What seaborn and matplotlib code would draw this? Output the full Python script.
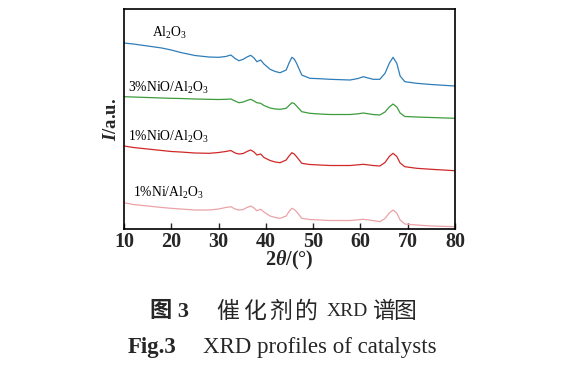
import numpy as np
import pandas as pd
import matplotlib
matplotlib.use("Agg")
import matplotlib.pyplot as plt
import seaborn as sns

# 2theta positions (deg)
two_theta = [10, 12, 15, 18, 20, 22, 25, 28, 30, 31.5, 32.6, 33.5, 34.3, 35.2, 36,
             36.8, 37.5, 38.1, 38.9, 39.6, 40.9, 42, 43, 44.3, 44.9, 45.5, 46, 46.5,
             47.6, 49.3, 51.4, 53.6, 57.8, 59.5, 60.6, 62.7, 64.1, 65.2, 66.1, 66.9,
             67.7, 68.4, 69.4, 71.9, 75, 80]

# stacked intensities (a.u., offsets included)
al2o3 = [186, 185, 183, 181, 179, 176.5, 173.5, 172, 171.7, 172.5, 174, 170.5, 168.3,
         169.7, 172, 173.7, 171, 167.3, 169, 165, 159.7, 157.5, 156.3, 159, 166, 171.7,
         170, 165.7, 154, 150.7, 150.3, 149.7, 149, 150.5, 152.3, 149.7, 149.7, 155.7,
         165.7, 171.7, 165.7, 153, 147.3, 145.7, 144.5, 143]
nio3 = [132.3, 132, 131.5, 131, 130.7, 130.5, 130, 129.7, 129.5, 129.7, 130, 128, 126.3,
        127, 128.5, 129.7, 128, 126.3, 125.7, 123.5, 121, 120, 119.7, 120.7, 123.5, 126.3,
        125.5, 123, 117.3, 115.7, 115, 114.5, 114.5, 115.2, 116, 114.5, 114, 117, 122, 125,
        122, 116, 112.5, 112, 111.5, 110.7]
nio1 = [83, 81.5, 80, 78.5, 77.5, 77, 76, 75.7, 76.5, 77.5, 78.5, 76, 75, 75.5, 77.5, 79,
        77, 74, 75, 71.5, 68.5, 67, 66.3, 69, 73, 76.3, 75, 72.3, 65.7, 64.5, 64, 63.5,
        63.5, 64.2, 64.7, 63.5, 63, 66.5, 72.5, 75.7, 72.5, 66, 62.3, 60.7, 59.7, 58.3]
ni1 = [26.3, 24.5, 23, 21.5, 20.7, 20, 19, 19, 20, 21.5, 22.3, 20, 19, 19.5, 21.5, 23, 21,
       18.3, 19.7, 17, 13, 11.5, 10.7, 13, 17.5, 20.7, 19.5, 17.3, 10.7, 9.5, 9, 8.5, 8.5,
       9.2, 9.7, 8.5, 7.3, 10.5, 16, 19, 16, 9, 5, 4, 3, 2.3]

labels = [r"Al$_2$O$_3$", r"3%NiO/Al$_2$O$_3$", r"1%NiO/Al$_2$O$_3$", r"1%Ni/Al$_2$O$_3$"]
series = [al2o3, nio3, nio1, ni1]
colors = ["#2f7db8", "#3c9c3c", "#d02828", "#eba3a7"]
label_pos = [(15.9, 196), (10.9, 141), (10.9, 92), (11.9, 36)]

sns.set_style("ticks")
plt.rcParams["font.family"] = ["Liberation Serif", "Noto Sans CJK SC"]
plt.rcParams["mathtext.fontset"] = "custom"
plt.rcParams["mathtext.rm"] = "Liberation Serif"
plt.rcParams["mathtext.it"] = "Liberation Serif:italic"
plt.rcParams["mathtext.bf"] = "Liberation Serif:bold"
plt.rcParams["mathtext.bfit"] = "Liberation Serif:bold:italic"

fig = plt.figure(figsize=(5.79, 3.68), dpi=100)
ax = fig.add_axes([0.2142, 0.3777, 0.5716, 0.5978])

for name, y, c in zip(labels, series, colors):
    df = pd.DataFrame({"x": two_theta, "y": y})
    sns.lineplot(data=df, x="x", y="y", color=c, lw=0.9, ax=ax)

for name, (lx, ly) in zip(labels, label_pos):
    ax.text(lx, ly, name, fontsize=9.8, va="center", ha="left", color="black")

ax.set_xlim(10, 80)
ax.set_ylim(0, 220)
ax.set_xticks(range(10, 81, 10))
ax.set_yticks([])
ax.tick_params(axis="x", direction="in", length=4, width=1, labelsize=14.5, pad=2)
for t in ax.get_xticklabels():
    t.set_fontweight("bold")
for s in ax.spines.values():
    s.set_linewidth(1.2)
    s.set_color("black")

ax.set_xlabel(r"2$\mathbfit{\theta}$/(°)", fontsize=14.5, fontweight="bold", labelpad=-2)
ax.set_ylabel(r"$\mathbfit{I}$/a.u.", fontsize=13.5, fontweight="bold", labelpad=3)


def spaced(x0, x1, yc, s, **kw):
    # spread CJK glyphs evenly between two pixel positions
    n = len(s)
    step = (x1 - x0) / n
    for i, ch in enumerate(s):
        fig.text((x0 + step * (i + 0.5)) / 579, 1 - yc / 368, ch, ha="center", va="center", **kw)


fig.text(150 / 579, 1 - 312 / 368, "图 3", fontsize=16, fontweight="bold", va="center", ha="left")
spaced(215, 320, 312, "催化剂的", fontsize=16.5)
fig.text(327 / 579, 1 - 312 / 368, "XRD", fontsize=14, va="center", ha="left")
spaced(372, 416, 312, "谱图", fontsize=16.5)
fig.text(128 / 579, 1 - 348 / 368, "Fig.3", fontsize=16.5, fontweight="bold", va="center", ha="left")
fig.text(203 / 579, 1 - 348 / 368, "XRD profiles of catalysts", fontsize=16.5, va="center", ha="left")

fig.savefig("out.png", dpi=100)
